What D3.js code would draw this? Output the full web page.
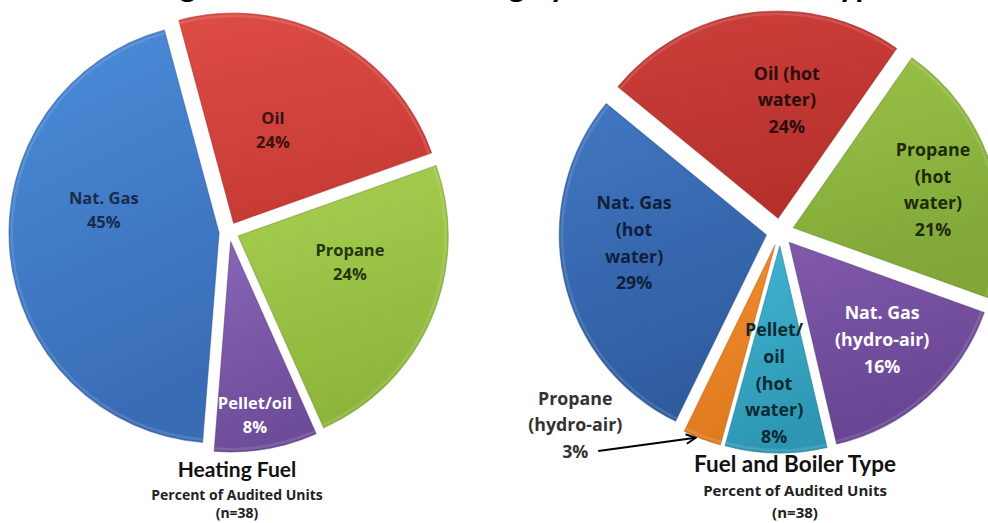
<!DOCTYPE html>
<html>
<head>
<meta charset="utf-8">
<script src="https://cdn.jsdelivr.net/npm/d3@7/dist/d3.min.js"></script>
<style>
  html, body { margin: 0; padding: 0; background: #fff; }
  svg { display: block; font-family: Lato, "Open Sans", "Noto Sans", sans-serif; font-weight: bold; }
  .lbl, .sub { font-family: "Open Sans", Lato, sans-serif; }
</style>
</head>
<body>
<svg id="chart" width="988" height="523"></svg>
<script>
// ---- Data: heating fuel (percent of audited units, n=38)
const fuelCategories = ["Nat. Gas", "Oil", "Propane", "Pellet/oil"];
const fuelValues = [45, 24, 24, 8];

// ---- Data: fuel and boiler type (percent of audited units, n=38)
const boilerCategories = [
  "Nat. Gas (hot water)",
  "Oil (hot water)",
  "Propane (hot water)",
  "Nat. Gas (hydro-air)",
  "Pellet/oil (hot water)",
  "Propane (hydro-air)"
];
const boilerValues = [29, 24, 21, 16, 8, 3];

// wrapped label text for each slice (percent line is added from the value)
const fuelLabelLines = [["Nat. Gas"], ["Oil"], ["Propane"], ["Pellet/oil"]];
const boilerLabelLines = [
  ["Nat. Gas", "(hot", "water)"],
  ["Oil (hot", "water)"],
  ["Propane", "(hot", "water)"],
  ["Nat. Gas", "(hydro-air)"],
  ["Pellet/", "oil", "(hot", "water)"],
  ["Propane", "(hydro-air)"]
];

const pageTitle = "Heating Fuel Used and Heating System Distribution Type";
const subTitle = "Percent of Audited Units";
const sampleNote = "(n=38)";

// ---- Styling
const palette = {
  blueL:   ["#4a8dda", "#3a6cb6"],
  redL:    ["#de4c46", "#c73b35"],
  greenL:  ["#a9d052", "#8cb53b"],
  purpleL: ["#8a66b6", "#6d4c99"],
  blueR:   ["#4177c2", "#2f5c9f"],
  redR:    ["#cd3f3a", "#b5302c"],
  greenR:  ["#99c248", "#80a737"],
  purpleR: ["#8159ab", "#674592"],
  cyanR:   ["#42b6d2", "#2d97b3"],
  orangeR: ["#f4902f", "#e07a1f"]
};

const deg = Math.PI / 180;

const charts = [
  {
    id: "fuel",
    categories: fuelCategories,
    values: fuelValues,
    lines: fuelLabelLines,
    colors: ["blueL", "redL", "greenL", "purpleL"],
    textColors: ["#1a2b4a", "#3a1210", "#263510", "#ffffff"],
    cx: 229, cy: 232, r: 210, explode: 10,
    start: 184.5,
    fontSize: 16.5, lineHeight: 24,
    // label placement: angle shift from slice middle (deg) and radius fraction
    labelShift: [15, -4.4, -9, 1.7],
    labelRadius: [0.605, 0.53, 0.594, 0.88],
    title: "Heating Fuel", titleX: 237,
    captionY: [477, 500, 518], titleSize: 21, subSize: 14
  },
  {
    id: "boiler",
    categories: boilerCategories,
    values: boilerValues,
    lines: boilerLabelLines,
    colors: ["blueR", "redR", "greenR", "purpleR", "cyanR", "orangeR"],
    textColors: ["#101f3c", "#2a0d0c", "#1e2a08", "#ffffff", "#0c2a33", "#333333"],
    cx: 780, cy: 232, r: 207, explode: 14,
    start: 206,
    fontSize: 17.8, lineHeight: 26.7,
    labelShift: [8, 10.8, 2.2, -1.7, 1.2, 26],
    labelRadius: [0.707, 0.638, 0.767, 0.718, 0.732, 1.36],
    calloutIndex: 5,
    title: "Fuel and Boiler Type", titleX: 795,
    captionY: [472, 496, 518], titleSize: 22.5, subSize: 15
  }
];

const svg = d3.select("#chart");
svg.append("rect").attr("width", 988).attr("height", 523).attr("fill", "#fff");

const defs = svg.append("defs");
Object.entries(palette).forEach(([key, [c0, c1]]) => {
  const g = defs.append("linearGradient")
    .attr("id", "grad-" + key)
    .attr("x1", 0).attr("y1", 0).attr("x2", 0.25).attr("y2", 1);
  g.append("stop").attr("offset", "0%").attr("stop-color", c0);
  g.append("stop").attr("offset", "100%").attr("stop-color", c1);
});

defs.append("marker")
  .attr("id", "arrowhead")
  .attr("viewBox", "0 0 10 10")
  .attr("refX", 9).attr("refY", 5)
  .attr("markerWidth", 6).attr("markerHeight", 6)
  .attr("orient", "auto")
  .append("path")
  .attr("d", "M1,1 L9,5 L1,9")
  .attr("fill", "none")
  .attr("stroke", "#000")
  .attr("stroke-width", 1.6);

// Page heading, running off the top edge above both charts
svg.append("text")
  .attr("x", 487).attr("y", -3)
  .attr("text-anchor", "middle")
  .attr("font-size", 32)
  .attr("fill", "#000")
  .text(pageTitle);

charts.forEach(cfg => {
  const data = cfg.categories.map((c, i) => ({
    category: c, value: cfg.values[i], lines: cfg.lines[i],
    color: cfg.colors[i], textColor: cfg.textColors[i], i
  }));

  const pie = d3.pie()
    .value(d => d.value)
    .sort(null)
    .startAngle(cfg.start * deg)
    .endAngle(cfg.start * deg + 2 * Math.PI);

  const arcs = pie(data);
  const arc = d3.arc().innerRadius(0).outerRadius(cfg.r);

  const g = svg.append("g").attr("transform", `translate(${cfg.cx},${cfg.cy})`);

  const mid = a => (a.startAngle + a.endAngle) / 2;
  const polar = (ang, rad) => [Math.sin(ang) * rad, -Math.cos(ang) * rad];
  const shift = a => {
    const [dx, dy] = polar(mid(a), cfg.explode);
    return `translate(${dx},${dy})`;
  };

  g.selectAll("path.slice")
    .data(arcs)
    .join("path")
    .attr("class", "slice")
    .attr("transform", shift)
    .attr("d", arc)
    .attr("fill", a => `url(#grad-${a.data.color})`)
    .attr("stroke", a => d3.color(palette[a.data.color][1]).darker(0.5))
    .attr("stroke-opacity", 0.55)
    .attr("stroke-width", 1.2)
    .attr("stroke-linejoin", "round");

  // soft highlight along the rim
  g.selectAll("path.rim")
    .data(arcs)
    .join("path")
    .attr("class", "rim")
    .attr("transform", shift)
    .attr("d", d3.arc().innerRadius(cfg.r - 4).outerRadius(cfg.r - 1.5))
    .attr("fill", "#fff")
    .attr("fill-opacity", 0.12);

  // slice labels
  arcs.forEach(a => {
    const i = a.data.i;
    const ang = mid(a) + cfg.labelShift[i] * deg;
    const [lx, ly] = polar(ang, cfg.r * cfg.labelRadius[i]);
    const lines = a.data.lines.concat([a.data.value + "%"]);
    const top = ly - (lines.length - 1) * cfg.lineHeight / 2;
    const t = g.append("text")
      .attr("class", "lbl")
      .attr("text-anchor", "middle")
      .attr("font-size", cfg.fontSize)
      .attr("fill", a.data.textColor);
    lines.forEach((s, k) => {
      t.append("tspan")
        .attr("x", lx)
        .attr("y", top + k * cfg.lineHeight)
        .attr("dy", "0.35em")
        .text(s);
    });

    if (cfg.calloutIndex === i) {
      // arrow from the last label line to the slice rim
      const lastY = top + (lines.length - 1) * cfg.lineHeight;
      const [ex, ey] = polar(mid(a), cfg.r + cfg.explode + 1);
      g.append("line")
        .attr("x1", lx + 23).attr("y1", lastY - 1)
        .attr("x2", ex - 6).attr("y2", ey - 2)
        .attr("stroke", "#000")
        .attr("stroke-width", 2)
        .attr("marker-end", "url(#arrowhead)");
    }
  });

  // chart captions
  svg.append("text")
    .attr("x", cfg.titleX).attr("y", cfg.captionY[0])
    .attr("text-anchor", "middle")
    .attr("font-size", cfg.titleSize)
    .attr("fill", "#111")
    .text(cfg.title);
  svg.append("text")
    .attr("class", "sub")
    .attr("x", cfg.titleX).attr("y", cfg.captionY[1])
    .attr("text-anchor", "middle")
    .attr("font-size", cfg.subSize)
    .attr("fill", "#222")
    .text(subTitle);
  svg.append("text")
    .attr("class", "sub")
    .attr("x", cfg.titleX).attr("y", cfg.captionY[2])
    .attr("text-anchor", "middle")
    .attr("font-size", cfg.subSize)
    .attr("fill", "#222")
    .text(sampleNote);
});
</script>
</body>
</html>
